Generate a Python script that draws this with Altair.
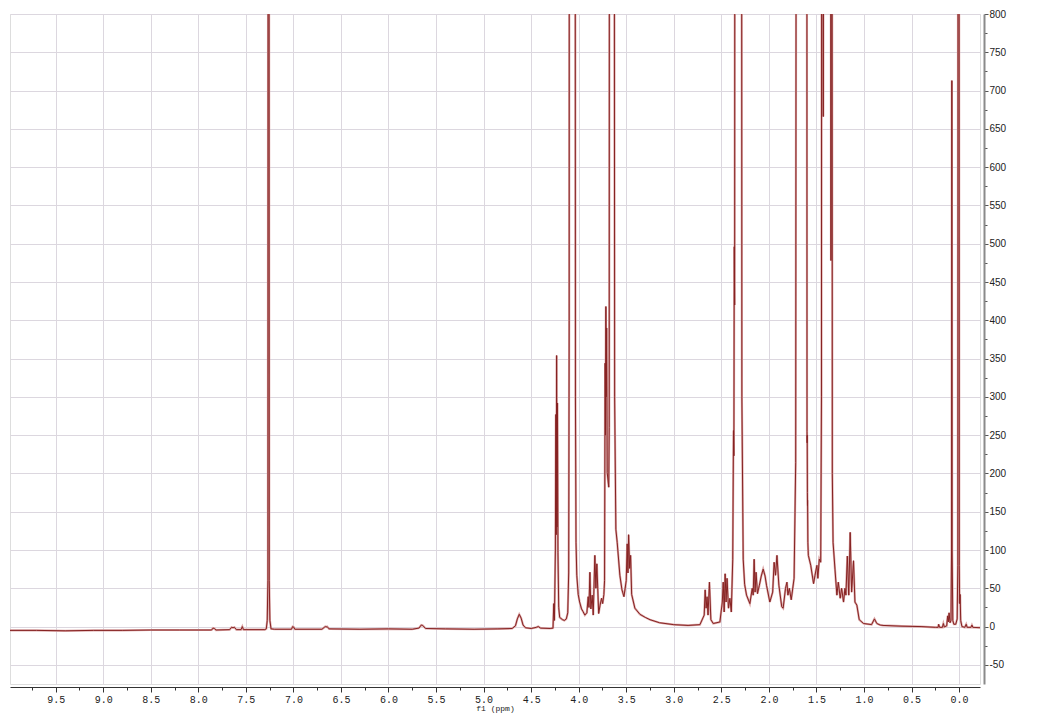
import altair as alt
import pandas as pd

# Spectrum vertices: (chemical shift ppm, intensity)
baseline_low_field = [
    (9.98, -5), (9.7, -5), (9.4, -5.5), (9.1, -5), (8.8, -5), (8.5, -4.5), (8.2, -4.5),
    (7.95, -4.5), (7.86, -4.5), (7.845, -2), (7.83, -2.5), (7.815, -4.5), (7.67, -4),
    (7.65, -1), (7.635, -1.5), (7.62, -1), (7.60, -4), (7.55, -4), (7.537, 0), (7.525, -4),
    (7.30, -4), (7.285, -3), (7.275, 8), (7.268, 60), (7.264, 2000), (7.258, 2000),
    (7.254, 60), (7.247, 8), (7.235, -3), (7.20, -3.5), (7.02, -3.5), (7.008, 0),
    (6.998, -0.5), (6.985, -3.5), (6.70, -3.5), (6.675, -1), (6.665, 0), (6.655, -0.5),
    (6.645, 0), (6.625, -3), (6.30, -3.5), (6.0, -3), (5.75, -3.5), (5.68, -2),
    (5.655, 2), (5.64, 1.5), (5.61, -2.5), (5.4, -3), (5.1, -3.5), (4.85, -3),
    (4.70, -2.5), (4.665, 1), (4.645, 10), (4.625, 16), (4.605, 11), (4.585, 2),
    (4.56, -1.5), (4.50, -2.5), (4.445, -1), (4.425, 0), (4.40, -2), (4.30, -2.5),
    (4.27, -2),
]

region_4_to_3 = [
    (4.262, 30), (4.255, 8), (4.245, 100), (4.24, 277), (4.236, 120), (4.232, 354),
    (4.228, 130), (4.223, 292), (4.218, 97), (4.21, 25), (4.20, 12), (4.17, 9),
    (4.15, 8), (4.13, 10), (4.115, 18), (4.105, 70), (4.10, 400), (4.097, 2000),
    (4.04, 2000), (4.034, 300), (4.028, 110), (4.02, 67), (4.005, 42), (3.99, 32),
    (3.97, 23), (3.956, 20), (3.935, 15), (3.914, 18), (3.90, 39), (3.892, 25),
    (3.882, 71), (3.872, 23), (3.858, 41), (3.847, 15), (3.83, 93), (3.819, 50),
    (3.809, 82), (3.79, 17), (3.775, 28), (3.759, 37), (3.748, 30), (3.735, 42),
    (3.728, 60), (3.722, 344), (3.718, 250), (3.714, 418), (3.71, 300), (3.706, 390),
    (3.70, 201), (3.684, 182), (3.679, 260), (3.675, 2000), (3.63, 2000), (3.622, 300),
    (3.609, 127), (3.595, 110), (3.567, 67), (3.545, 48), (3.524, 39), (3.50, 60),
    (3.49, 108), (3.482, 70), (3.475, 120), (3.464, 76), (3.454, 93), (3.443, 42),
    (3.409, 24), (3.356, 16), (3.30, 12),
]

region_3_to_1 = [
    (3.25, 9), (3.15, 5), (3.0, 2.5), (2.85, 1.5), (2.725, 2.5), (2.68, 15),
    (2.67, 48), (2.66, 24), (2.65, 39), (2.64, 15), (2.625, 58), (2.61, 9),
    (2.585, 4), (2.515, 6), (2.49, 32), (2.48, 58), (2.47, 19), (2.46, 69),
    (2.45, 32), (2.44, 63), (2.425, 24), (2.41, 37), (2.395, 19), (2.38, 88),
    (2.372, 256), (2.368, 223), (2.364, 496), (2.36, 420), (2.355, 2000),
    (2.29, 2000), (2.284, 300), (2.27, 88), (2.255, 55), (2.235, 41), (2.20, 30),
    (2.175, 50), (2.165, 41), (2.155, 88), (2.145, 45), (2.135, 71), (2.12, 43),
    (2.10, 54), (2.08, 66), (2.06, 75), (2.04, 66), (2.025, 54), (1.99, 32),
    (1.96, 45), (1.945, 84), (1.93, 67), (1.915, 93), (1.895, 54), (1.865, 26),
    (1.85, 24), (1.825, 50), (1.81, 58), (1.80, 41), (1.785, 50), (1.765, 35),
    (1.735, 63), (1.718, 214), (1.707, 2000), (1.602, 2000), (1.599, 255),
    (1.598, 240), (1.597, 250), (1.595, 175), (1.594, 158), (1.593, 165),
    (1.59, 110), (1.585, 93), (1.56, 80), (1.53, 56), (1.515, 67), (1.495, 80),
    (1.485, 63), (1.47, 88), (1.455, 84), (1.447, 300), (1.443, 2000),
    (1.433, 2000), (1.428, 666), (1.424, 2000), (1.352, 2000), (1.347, 478),
    (1.343, 2000), (1.338, 2000), (1.333, 200), (1.325, 110), (1.305, 75),
    (1.285, 41), (1.27, 58), (1.25, 37), (1.235, 50), (1.215, 32), (1.20, 50),
    (1.19, 41), (1.175, 92), (1.16, 41), (1.145, 123), (1.13, 45), (1.11, 86),
    (1.095, 32), (1.075, 28), (1.05, 9), (1.005, 4), (0.92, 2.6), (0.89, 10),
    (0.865, 4), (0.83, 2),
]

region_high_field = [
    (0.80, 1.5), (0.6, 0.5), (0.4, 0), (0.25, -1), (0.22, -1), (0.215, 3),
    (0.205, -1), (0.175, -1), (0.165, 4), (0.155, -0.5), (0.13, 1), (0.12, 14),
    (0.113, 6), (0.105, 18), (0.095, 5), (0.085, 8), (0.079, 100), (0.076, 713),
    (0.073, 100), (0.066, 8), (0.055, 3), (0.035, 3), (0.02, 10), (0.013, 80),
    (0.009, 2000), (0.002, 2000), (-0.002, 80), (-0.006, 30), (-0.011, 42),
    (-0.017, 8), (-0.03, 0), (-0.06, -1), (-0.075, 3), (-0.085, -1), (-0.125, -1),
    (-0.135, 2), (-0.145, -1), (-0.22, -1.5),
]

x_tick_values = [i * 0.25 for i in range(0, 40)]
y_tick_values = list(range(-50, 801, 25))

rows = baseline_low_field + region_4_to_3 + region_3_to_1 + region_high_field
df = pd.DataFrame(rows, columns=["ppm", "intensity"])
df["i"] = range(len(df))

grid_color = "#dcd7df"
major_x = "abs(datum.value*2 - round(datum.value*2)) < 0.001"
major_y = "datum.value % 50 == 0"

x_enc = alt.X(
    "ppm:Q",
    scale=alt.Scale(domain=[-0.22, 9.98], reverse=True, nice=False, zero=False),
    axis=alt.Axis(
        values=x_tick_values,
        title="f1 (ppm)",
        labelExpr=f"{major_x} ? format(datum.value, '.1f') : ''",
        grid=True,
        gridColor=grid_color,
        gridOpacity={"condition": {"test": major_x, "value": 1}, "value": 0},
        tickSize={"condition": {"test": major_x, "value": 5}, "value": 3},
        offset=3,
        domainColor="#333333",
        tickColor="#333333",
        labelFont="Liberation Mono",
        labelFontSize=10,
        labelColor="#222222",
        labelPadding=2,
        titleFont="Liberation Mono",
        titleFontSize=8,
        titleFontWeight="normal",
        titleColor="#222222",
        titlePadding=0,
    ),
)

y_enc = alt.Y(
    "intensity:Q",
    scale=alt.Scale(domain=[-75, 800], nice=False, zero=False),
    axis=alt.Axis(
        orient="right",
        values=y_tick_values,
        title=None,
        labelExpr=f"{major_y} ? datum.value : ''",
        grid=True,
        gridColor=grid_color,
        gridOpacity={"condition": {"test": major_y, "value": 1}, "value": 0},
        tickSize={"condition": {"test": major_y, "value": 4}, "value": 3},
        offset=4,
        domainColor="#8a8a8a",
        domainWidth=2,
        tickColor="#555555",
        labelFont="Liberation Sans",
        labelFontSize=10,
        labelColor="#222222",
        labelPadding=1,
    ),
)

base = alt.Chart(df).encode(x=x_enc, y=y_enc, order=alt.Order("i:Q"))
halo = base.mark_line(color="#dba7a7", strokeWidth=2.2, clip=True)
core = base.mark_line(color="#862222", strokeWidth=1.0, clip=True)

chart = (
    alt.layer(halo, core)
    .properties(
        width=970,
        height=670,
        padding={"left": 2, "top": 6, "right": 50, "bottom": 40},
        autosize=alt.AutoSizeParams(type="none"),
    )
    .configure_view(stroke="#cfcbd3")
    .configure(background="white")
)

chart.save("out.html", embed_options={"renderer": "svg", "actions": False})
